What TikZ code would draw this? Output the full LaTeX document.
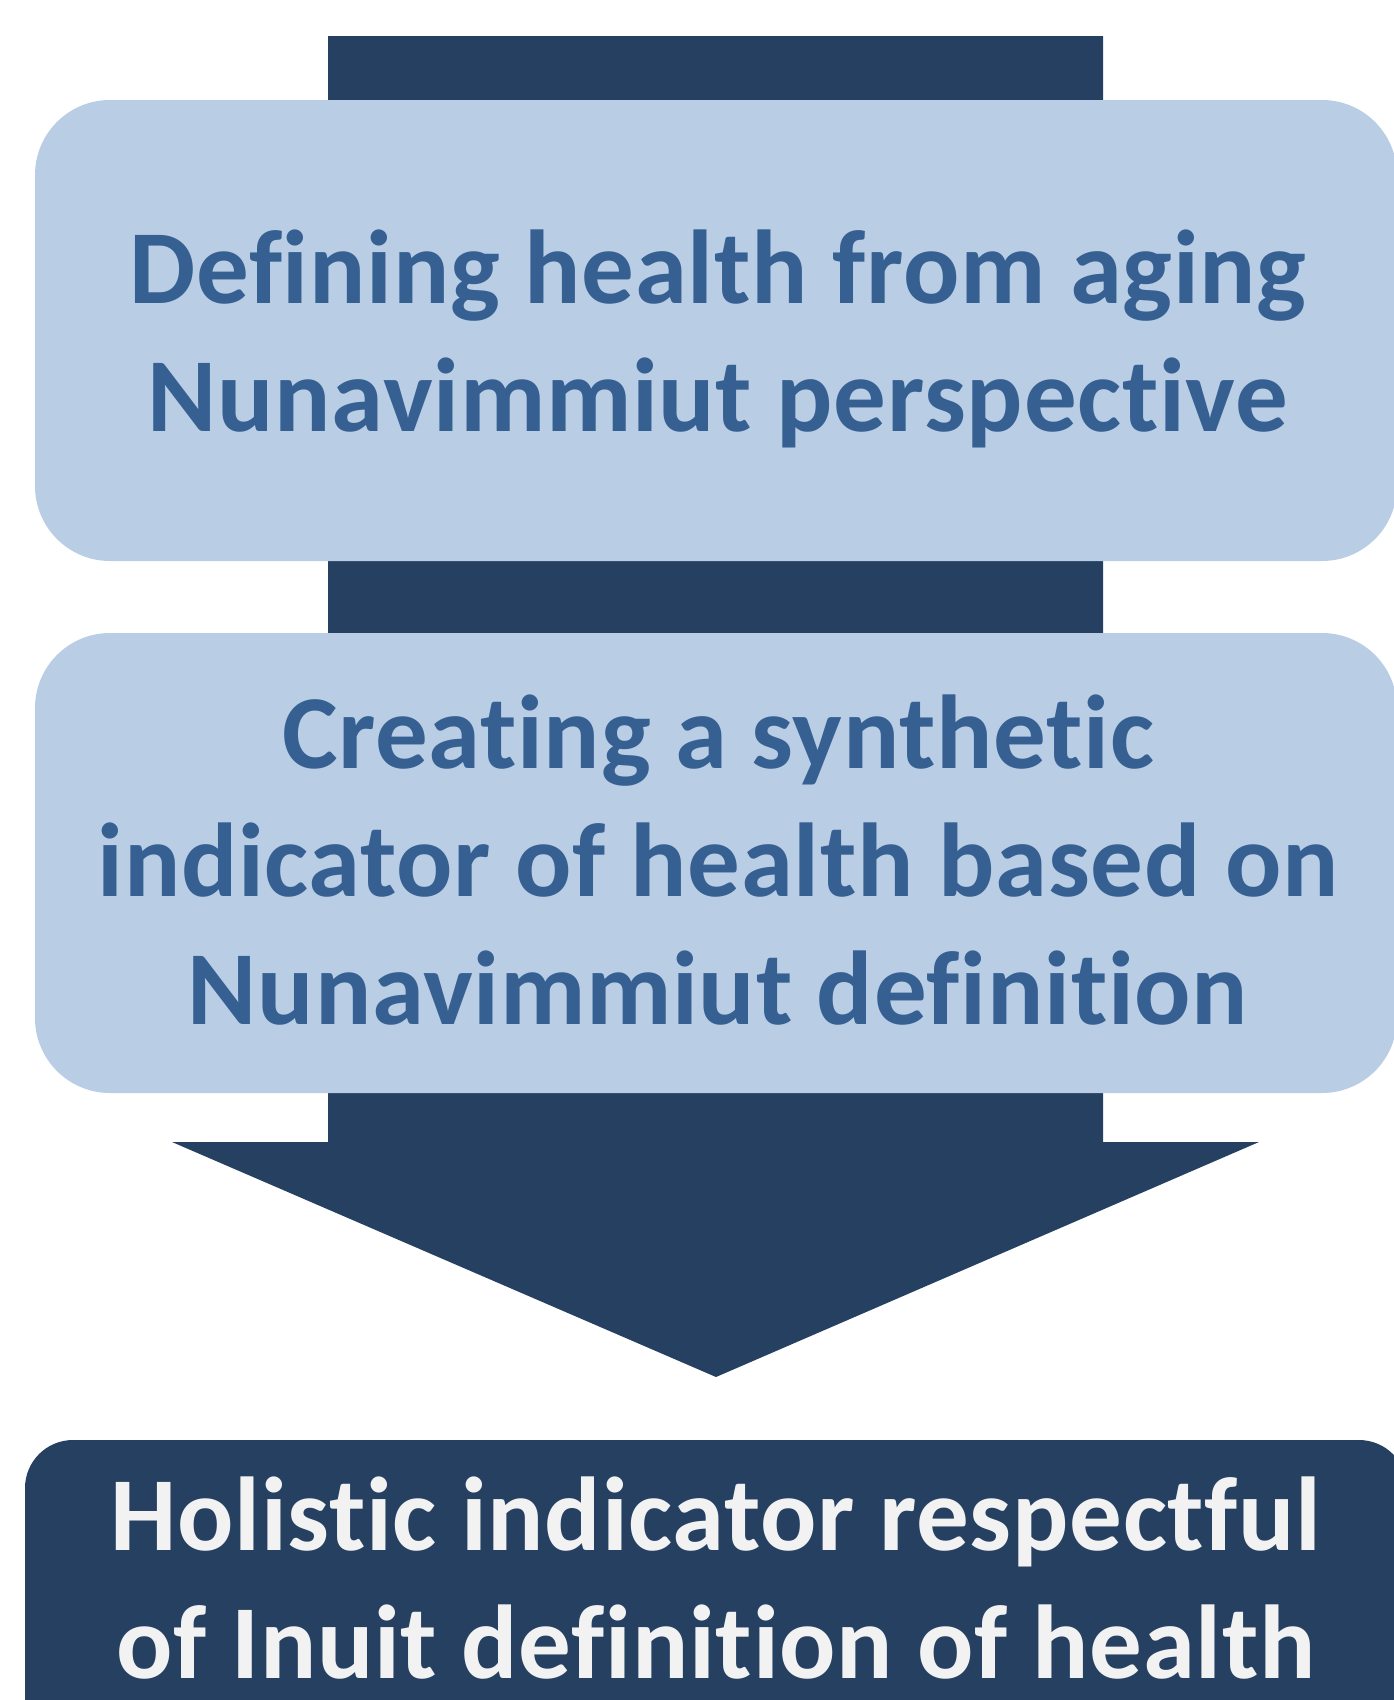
\documentclass[tikz,border=0pt]{standalone}
\usepackage{fontspec}
\setmainfont{Carlito}[Ligatures={NoCommon},LetterSpace=0.7]
\definecolor{lightbox}{HTML}{B9CDE5}
\definecolor{darkbar}{HTML}{264062}
\definecolor{bluetext}{HTML}{366092}
\definecolor{whitetext}{HTML}{F2F2F2}
\tikzset{
  lightstep/.style={fill=lightbox, draw=none, rounded corners=75pt},
  darkstep/.style={fill=darkbar, draw=none, rounded corners=48pt},
  steptext/.style={align=center, anchor=base, inner sep=0pt,
    font=\fontsize{105}{128}\selectfont\bfseries},
}
\begin{document}
\begin{tikzpicture}[x=1pt,y=-1pt]
\useasboundingbox (0,0) rectangle (1394,1700);
\clip (0,0) rectangle (1394,1700);
% big arrow behind the boxes
\fill[darkbar] (328,36) -- (1103,36) -- (1103,1142) -- (1259,1142) -- (716,1377)
  -- (172,1142) -- (328,1142) -- cycle;
% boxes
\fill[lightstep] (35,100) rectangle (1397,561);
\fill[lightstep] (35,633) rectangle (1397,1093);
\fill[darkstep] (25,1440) rectangle (1407,1790);
% texts (anchor base = baseline of the last line)
\node[steptext, text=bluetext] (t1) at (718,431) {Defining health from aging\\Nunavimmiut perspective};
\node[steptext, text=bluetext] (t2) at (718,1024) {Creating a synthetic\\indicator of health based on\\Nunavimmiut definition};
\node[steptext, text=whitetext] (t3) at (716,1678) {Holistic indicator respectful\\of Inuit definition of health};
\end{tikzpicture}
\end{document}
